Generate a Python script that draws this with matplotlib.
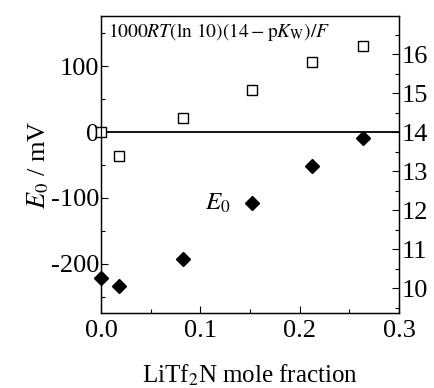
import matplotlib
matplotlib.use('Agg')
import matplotlib.pyplot as plt
from matplotlib.ticker import MultipleLocator

plt.rcParams['font.family'] = ['Liberation Serif', 'DejaVu Serif']
plt.rcParams['mathtext.fontset'] = 'stix'
plt.rcParams['axes.unicode_minus'] = False

# LiTf2N mole fraction
x_frac = [0.0, 0.018, 0.0826, 0.152, 0.2124, 0.2638]
# 1000RT(ln10)(14 - pKw)/F, mV (open squares)
pkw_term = [0.0, -36.0, 20.7, 63.6, 105.6, 129.8]
# E0, mV (filled diamonds)
e0 = [-221.7, -233.0, -192.4, -107.0, -51.5, -8.6]

nernst = 59.16  # mV per pH unit at 25 C
ylo, yhi = -274, 176

fig = plt.figure(figsize=(4.34, 3.88), dpi=100)
ax = fig.add_axes([0.2327, 0.194, 0.6867, 0.7648])

ax.axhline(0, color='black', lw=1.3, zorder=1)
ax.plot(x_frac, pkw_term, ls='none', marker='s', ms=6.5, mfc='white',
        mec='black', mew=1.0, zorder=3, clip_on=False)
ax.plot(x_frac, e0, ls='none', marker='D', ms=6.8, mfc='black',
        mec='black', zorder=3, clip_on=False)

ax.set_xlim(0, 0.3)
ax.set_ylim(ylo, yhi)
ax.xaxis.set_major_locator(MultipleLocator(0.1))
ax.xaxis.set_minor_locator(MultipleLocator(0.05))
ax.yaxis.set_major_locator(MultipleLocator(100))
ax.yaxis.set_minor_locator(MultipleLocator(50))
ax.xaxis.set_major_formatter(matplotlib.ticker.FormatStrFormatter('%.1f'))
ax.tick_params(which='both', direction='in', top=False, right=False,
               labelsize=19, width=0.8)
ax.tick_params(which='major', length=5)
ax.tick_params(which='minor', length=3)
ax.tick_params(axis='x', pad=5)
ax.tick_params(axis='y', pad=1)

ax2 = ax.twinx()
ax2.set_ylim(14 + ylo / nernst, 14 + yhi / nernst)
ax2.yaxis.set_major_locator(MultipleLocator(1))
ax2.yaxis.set_minor_locator(MultipleLocator(0.5))
ax2.tick_params(which='both', direction='in', labelsize=19, width=0.8, pad=2)
ax2.tick_params(which='major', length=5)
ax2.tick_params(which='minor', length=3)

for a in (ax, ax2):
    for s in a.spines.values():
        s.set_linewidth(0.9)

ax.set_ylabel(r'$E_0$ / mV', fontsize=19, labelpad=0)
ax.set_xlabel(r'LiTf$_2$N mole fraction', fontsize=18, labelpad=15)

ax.text(0.025, 0.945, r'$1000RT(\mathrm{ln}\ 10)(14-\mathrm{p}K_\mathrm{W})/F$',
        transform=ax.transAxes, fontsize=14, va='center', ha='left')
ax.text(0.35, 0.37, r'$E_0$', transform=ax.transAxes, fontsize=18,
        va='center', ha='left')

fig.savefig('out.png', dpi=100)
